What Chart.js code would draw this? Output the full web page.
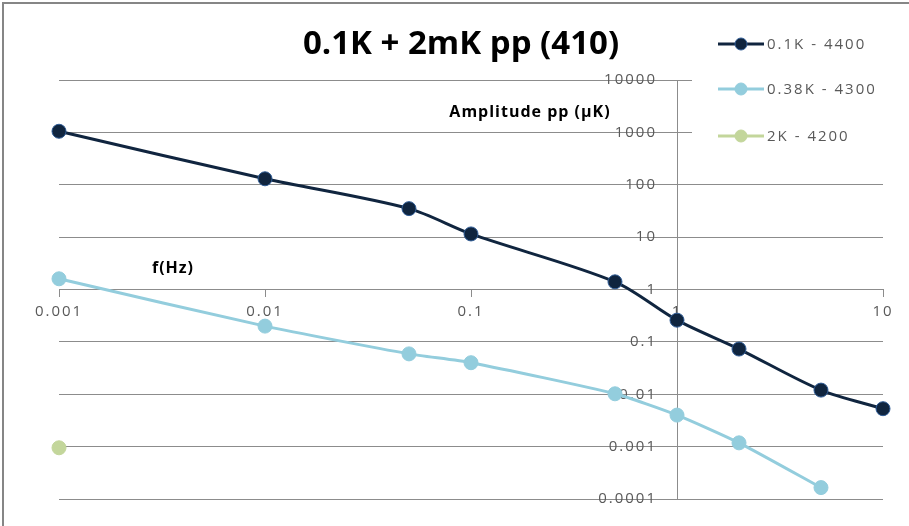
<!DOCTYPE html>
<html>
<head>
<meta charset="utf-8">
<script src="https://cdn.jsdelivr.net/npm/chart.js@4"></script>
<style>
  html, body { margin: 0; padding: 0; background: #fff; }
  #wrap { width: 909px; height: 526px; }
</style>
</head>
<body>
<div id="wrap"><canvas id="chart" width="909" height="526"></canvas></div>
<script>
// data
const chartTitle = '0.1K + 2mK pp (410)';
const yTitle = 'Amplitude pp (µK)';
const xTitle = 'f(Hz)';

const xTicks = [0.001, 0.01, 0.1, 1, 10];
const xTickLabels = ['0.001', '0.01', '0.1', '1', '10'];
const yTicks = [0.0001, 0.001, 0.01, 0.1, 1, 10, 100, 1000, 10000];
const yTickLabels = ['0.0001', '0.001', '0.01', '0.1', '1', '10', '100', '1000', '10000'];

const seriesNames = ['0.1K - 4400', '0.38K - 4300', '2K - 4200'];

const freq4400 = [0.001, 0.01, 0.05, 0.1, 0.5, 1, 2, 5, 10];
const amp4400 = [1050, 130, 35, 11.5, 1.4, 0.26, 0.073, 0.012, 0.0053];

const freq4300 = [0.001, 0.01, 0.05, 0.1, 0.5, 1, 2, 5];
const amp4300 = [1.6, 0.2, 0.059, 0.04, 0.0102, 0.004, 0.00118, 0.000165];

const freq4200 = [0.001];
const amp4200 = [0.00095];

function toPoints(xs, ys) {
    return xs.map((x, i) => ({ x: x, y: ys[i] }));
}

const gridColor = '#8c8c8c';
const labelColor = '#595959';

// white page, Excel-like frame, title and axis captions, legend box
const decorPlugin = {
    id: 'decor',
    afterLayout(chart) {
        // y labels sit a bit left of the crossing axis, like in Excel
        const s = chart.scales.y;
        if (!s._shifted) {
            const orig = s._computeLabelItems.bind(s);
            s._computeLabelItems = function(area) {
                const items = orig(area);
                items.forEach(it => { it.options.translation[0] -= 20; });
                return items;
            };
            s._shifted = true;
        }
        s._labelItems = null;
    },
    beforeDraw(chart) {
        const ctx = chart.ctx;
        ctx.save();
        ctx.fillStyle = '#fff';
        ctx.fillRect(0, 0, chart.width, chart.height);
        ctx.strokeStyle = '#868686';
        ctx.lineWidth = 2;
        ctx.beginPath();
        ctx.moveTo(3, chart.height);
        ctx.lineTo(3, 3);
        ctx.lineTo(chart.width, 3);
        ctx.stroke();
        ctx.restore();
        ctx.letterSpacing = '2px';
    },
    afterDatasetsDraw(chart) {
        const ctx = chart.ctx;
        ctx.save();
        // title
        ctx.letterSpacing = '0px';
        ctx.fillStyle = '#000';
        ctx.font = 'bold 33px "Open Sans"';
        ctx.textAlign = 'center';
        ctx.textBaseline = 'middle';
        ctx.fillText(chartTitle, 461, 45);

        // axis captions
        ctx.letterSpacing = '1px';
        ctx.font = 'bold 16px "Open Sans"';
        ctx.fillText(yTitle, 530, 112);
        ctx.fillText(xTitle, 173, 268);

        // legend box over the plot
        ctx.fillStyle = '#fff';
        ctx.fillRect(692, 22, 217, 135);
        ctx.letterSpacing = '2px';
        ctx.textAlign = 'left';
        ctx.font = '15px "Open Sans"';
        const rows = [44, 89, 136];
        chart.data.datasets.forEach((ds, i) => {
            const y = rows[i];
            ctx.strokeStyle = ds.borderColor;
            ctx.lineWidth = 3;
            ctx.beginPath();
            ctx.moveTo(718, y);
            ctx.lineTo(764, y);
            ctx.stroke();
            ctx.beginPath();
            ctx.arc(741, y, 6, 0, Math.PI * 2);
            ctx.fillStyle = ds.pointBackgroundColor;
            ctx.fill();
            ctx.lineWidth = 1;
            ctx.strokeStyle = ds.pointBorderColor;
            ctx.stroke();
            ctx.fillStyle = labelColor;
            ctx.fillText(ds.label, 767, y + 1);
        });
        ctx.restore();
    }
};

const ctx = document.getElementById('chart').getContext('2d');
const chart = new Chart(ctx, {
    type: 'line',
    data: {
        datasets: [{
            label: seriesNames[0],
            data: toPoints(freq4400, amp4400),
            borderColor: '#10253F',
            borderWidth: 3,
            pointBackgroundColor: '#10253F',
            pointBorderColor: '#2F5C96',
            pointBorderWidth: 1,
            pointRadius: 7,
            tension: 0.3,
            clip: false
        }, {
            label: seriesNames[1],
            data: toPoints(freq4300, amp4300),
            borderColor: '#93CDDD',
            borderWidth: 3,
            pointBackgroundColor: '#93CDDD',
            pointBorderColor: '#93CDDD',
            pointBorderWidth: 1,
            pointRadius: 7,
            tension: 0.2,
            clip: false
        }, {
            label: seriesNames[2],
            data: toPoints(freq4200, amp4200),
            borderColor: '#C3D69B',
            borderWidth: 3,
            pointBackgroundColor: '#C3D69B',
            pointBorderColor: '#C3D69B',
            pointBorderWidth: 1,
            pointRadius: 7,
            clip: false
        }]
    },
    options: {
        responsive: false,
        animation: false,
        layout: {
            padding: { left: 59, right: 26, top: 80, bottom: 27 }
        },
        plugins: {
            legend: { display: false },
            title: { display: false },
            tooltip: { enabled: false }
        },
        scales: {
            x: {
                type: 'logarithmic',
                min: 0.001,
                max: 10,
                position: { y: 1 },
                afterBuildTicks: function(scale) {
                    scale.ticks = xTicks.map(v => ({ value: v }));
                },
                grid: {
                    drawOnChartArea: false,
                    drawTicks: true,
                    tickLength: 7,
                    color: gridColor
                },
                border: { display: true, color: gridColor, width: 1 },
                ticks: {
                    autoSkip: false,
                    maxRotation: 0,
                    padding: 6,
                    color: labelColor,
                    font: { family: 'Open Sans', size: 15 },
                    callback: function(value, index) {
                        return xTickLabels[index];
                    }
                }
            },
            y: {
                type: 'logarithmic',
                min: 0.0001,
                max: 10000,
                position: { x: 1 },
                afterBuildTicks: function(scale) {
                    scale.ticks = yTicks.map(v => ({ value: v }));
                },
                grid: {
                    drawOnChartArea: true,
                    drawTicks: true,
                    tickLength: 8,
                    color: gridColor
                },
                border: { display: true, color: gridColor, width: 1 },
                ticks: {
                    autoSkip: false,
                    padding: 12,
                    color: labelColor,
                    font: { family: 'Open Sans', size: 15 },
                    callback: function(value, index) {
                        return yTickLabels[index];
                    }
                }
            }
        }
    },
    plugins: [decorPlugin]
});
</script>
</body>
</html>
